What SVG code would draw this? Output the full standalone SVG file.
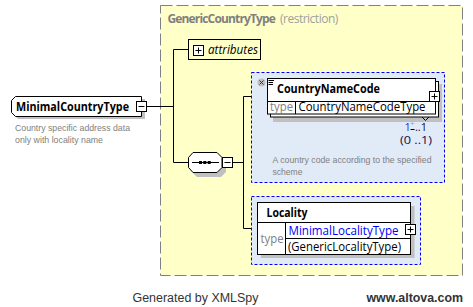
<svg xmlns="http://www.w3.org/2000/svg" width="473" height="307" viewBox="0 0 473 307">
<style>
.f{font-family:"Open Sans","Noto Sans","Liberation Sans",sans-serif}
.b{font-weight:bold}
.desc{font-family:"Liberation Sans",Arial,sans-serif;font-size:9.8px;fill:#808080}
.shadow{fill:#C0C0C0;stroke:none}
.box{fill:#FFFFFF;stroke:#000000;stroke-width:1}
.conn{stroke:#000000;stroke-width:1;fill:none}
.opt{fill:#E1EAF7;stroke:#0000FF;stroke-width:1;stroke-dasharray:3,2}
.pm{fill:#FFFFFF;stroke:#000000;stroke-width:1}
.foot{font-family:"Liberation Sans",Arial,sans-serif;font-size:12.5px;fill:#333333}
</style>
<rect width="473" height="307" fill="#FFFFFF"/>

<g id="GenericCountryType">
<rect x="160.5" y="5.5" width="302" height="270" fill="#FFFFC8" stroke="#808080" stroke-width="1" stroke-dasharray="12,4"/>
<text class="f b" x="167.5" y="23" font-size="12" fill="#808080" letter-spacing="-0.85">GenericCountryType</text>
<text class="f" x="280" y="23" font-size="12" fill="#A0A0A0" letter-spacing="-0.5">(restriction)</text>
</g>

<g id="connectors">
<path class="conn" d="M147 106.5H173.5M173.5 49.5V162.5M173.5 49.5H188M173.5 162.5H188M232 162.5H243.5M243.5 96.5V228.5M243.5 96.5H267M243.5 228.5H257"/>
</g>

<g id="MinimalCountryType">
<polygon class="shadow" points="18,99 145,99 145,119 18,119 14,115 14,103"/>
<polygon class="box" points="15.5,96.5 141.5,96.5 141.5,116.5 15.5,116.5 11.5,112.5 11.5,100.5"/>
<text class="f b" x="16" y="111" font-size="13" fill="#000000" textLength="113" lengthAdjust="spacingAndGlyphs">MinimalCountryType</text>
<rect class="pm" x="136.5" y="101.5" width="10" height="10"/>
<path class="conn" d="M138.5 106.5H144.5"/>
<text class="desc" x="15" y="131" textLength="115" lengthAdjust="spacingAndGlyphs">Country specific address data</text>
<text class="desc" x="15" y="143" textLength="88" lengthAdjust="spacingAndGlyphs">only with locality name</text>
</g>

<g id="attributes">
<rect x="188.5" y="39.5" width="72" height="20" fill="#FFFFC8" stroke="#000000" stroke-width="1"/>
<rect class="pm" x="193.5" y="45.5" width="10" height="10"/>
<path class="conn" d="M195.5 50.5H201.5M198.5 47.5V53.5"/>
<text class="f" x="208" y="54" font-size="12" font-style="italic" fill="#000000" textLength="50" lengthAdjust="spacingAndGlyphs">attributes</text>
</g>

<g id="sequence">
<polygon class="shadow" points="197,156 221,156 226,161 226,172 221,177 197,177 192,172 192,161"/>
<polygon class="box" points="193,152.5 217,152.5 222,157.5 222,167.5 217,172.5 193,172.5 188.5,167.5 188.5,157.5"/>
<path class="conn" d="M192 162.5H219"/>
<rect x="199" y="161" width="3" height="3" fill="#000000"/>
<rect x="203.3" y="161" width="3" height="3" fill="#000000"/>
<rect x="207.7" y="161" width="3" height="3" fill="#000000"/>
<rect class="pm" x="222.5" y="157.5" width="10" height="10"/>
<path class="conn" d="M224.5 162.5H230.5"/>
</g>

<g id="CountryNameCode">
<rect class="opt" x="251.5" y="72.5" width="193" height="110"/>
<rect class="shadow" x="273" y="84" width="169" height="38"/>
<rect class="box" x="270.5" y="81.5" width="168" height="35.5"/>
<rect class="box" x="267.5" y="78.5" width="168" height="35.5"/>
<path class="conn" d="M267.5 101.5H435.5M295.5 101.5V114"/>
<circle cx="261.5" cy="82.5" r="4" fill="#C0C0C0"/>
<path d="M259.5 80.5L263.5 84.5M263.5 80.5L259.5 84.5" stroke="#333333" stroke-width="1"/>
<path d="M268.5 80.5H274M268.5 82.5H273M268.5 84.5H273" stroke="#000000" stroke-width="1"/>
<text class="f b" x="277" y="92.5" font-size="12.5" fill="#000000" textLength="103" lengthAdjust="spacingAndGlyphs">CountryNameCode</text>
<text class="f" x="270" y="110.5" font-size="12" fill="#808080" textLength="23" lengthAdjust="spacingAndGlyphs">type</text>
<text class="f" x="298.5" y="110.5" font-size="12.5" fill="#000000" textLength="127" lengthAdjust="spacingAndGlyphs">CountryNameCodeType</text>
<rect class="pm" x="429.5" y="91.5" width="10" height="10"/>
<path class="conn" d="M431.5 96.5H437.5M434.5 93.5V99.5"/>
<polyline points="422,117 425.5,120.5 429,117" fill="none" stroke="#000000" stroke-width="1"/>
<text class="f" y="130.5" font-size="11"><tspan x="404.5" fill="#3C28D0">1</tspan><tspan x="410" y="126" font-size="8" fill="#A0A0A0">+</tspan><tspan x="415" y="130.5" fill="#0A0A50" textLength="12" lengthAdjust="spacingAndGlyphs">..1</tspan></text>
<path d="M410.5 129.5H414.5" stroke="#000000" stroke-width="1"/>
<text class="f" x="400" y="144" font-size="11" fill="#0A0A50" textLength="32" lengthAdjust="spacingAndGlyphs">(0  ..1)</text>
<text class="desc" x="272.5" y="163" textLength="159" lengthAdjust="spacingAndGlyphs">A country code according to the specified</text>
<text class="desc" x="272.5" y="175" textLength="30" lengthAdjust="spacingAndGlyphs">scheme</text>
</g>

<g id="Locality">
<rect class="opt" x="251.5" y="196.5" width="169" height="68"/>
<rect class="shadow" x="261" y="206" width="153.5" height="52"/>
<rect class="box" x="257.5" y="202.5" width="153" height="52"/>
<path class="conn" d="M257.5 222.5H410.5M285.5 222.5V254.5M285.5 238.5H410.5"/>
<text class="f b" x="266.5" y="217" font-size="12.5" fill="#000000" textLength="41" lengthAdjust="spacingAndGlyphs">Locality</text>
<text class="f" x="260.5" y="243" font-size="12" fill="#808080" textLength="23" lengthAdjust="spacingAndGlyphs">type</text>
<text class="f" x="288.5" y="235" font-size="12.5" fill="#0000FF" textLength="110" lengthAdjust="spacingAndGlyphs">MinimalLocalityType</text>
<text class="f" x="288" y="251" font-size="12.5" fill="#000000" textLength="113" lengthAdjust="spacingAndGlyphs">(GenericLocalityType)</text>
<rect class="pm" x="405.5" y="224.5" width="10" height="10"/>
<path class="conn" d="M407.5 229.5H413.5M410.5 226.5V232.5"/>
</g>

<g id="footer">
<text class="foot" x="132.5" y="302" textLength="126" lengthAdjust="spacingAndGlyphs">Generated by XMLSpy</text>
<text class="foot" x="366.5" y="302" font-weight="bold" textLength="96.5" lengthAdjust="spacingAndGlyphs">www.altova.com</text>
</g>
</svg>
